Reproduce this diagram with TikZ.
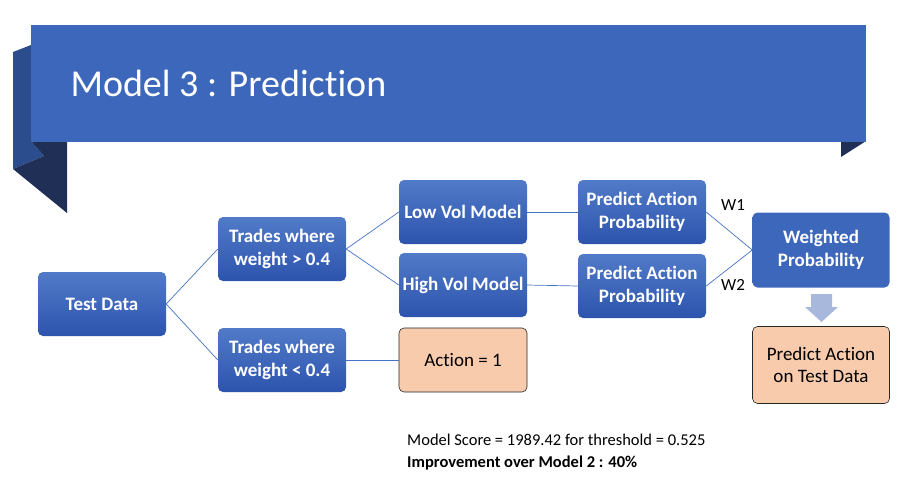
\documentclass[tikz,border=0pt]{standalone}
\usepackage{fontspec}
\setmainfont{Carlito}[Ligatures=NoCommon]
\definecolor{banner}{HTML}{3D67BA}
\definecolor{foldmid}{HTML}{2C4D8D}
\definecolor{folddark}{HTML}{1F2F56}
\definecolor{boxtop}{HTML}{517AC8}
\definecolor{boxbot}{HTML}{2D54AD}
\definecolor{peach}{HTML}{F8CBAD}
\definecolor{linkblue}{HTML}{4472C4}
\definecolor{arrowgrey}{HTML}{A8B7DC}
\begin{document}
\begin{tikzpicture}[x=1pt, y=-1pt,
        bluebox/.style={rounded corners=5pt, top color=boxtop, bottom color=boxbot, text=white, font=\fontsize{19}{22.5}\selectfont\bfseries, align=center, minimum width=128pt, minimum height=64pt, inner sep=0pt},
        peachbox/.style={rounded corners=5pt, fill=peach, draw=black!85, line width=0.6pt, font=\fontsize{19}{22.5}\selectfont, align=center, minimum width=128pt, minimum height=64pt, inner sep=0pt},
        link/.style={draw=linkblue, line width=0.7pt}]
    \useasboundingbox (0,0) rectangle (904,485);
    % title banner
    \fill[foldmid] (13,52) -- (31,45) -- (31,141) -- (44,156) -- (13,169) -- cycle;
    \fill[folddark] (31,141) -- (67,141) -- (67,213) -- (13,169) -- (44,156) -- cycle;
    \fill[folddark] (841,141) -- (866,141) -- (841,157) -- cycle;
    \fill[banner] (31,25) rectangle (866,142);
    \node[anchor=west, text=white, font=\fontsize{38}{44}\selectfont] (title) at (67,83) {Model 3 : Prediction};
    % boxes
    \node[bluebox] (test) at (102,304) {Test Data};
    \node[bluebox] (hi) at (282,249) {Trades where\\weight > 0.4};
    \node[bluebox] (lo) at (282,360) {Trades where\\weight < 0.4};
    \node[bluebox] (lowvol) at (463,212) {Low Vol Model};
    \node[bluebox] (highvol) at (463,285) {High Vol Model};
    \node[peachbox] (action) at (463,360) {Action = 1};
    \node[bluebox] (pap1) at (642,212) {Predict Action\\Probability};
    \node[bluebox] (pap2) at (642,286) {Predict Action\\Probability};
    \node[bluebox, top color=banner, bottom color=banner, minimum width=137pt, minimum height=75pt] (wp) at (821,250) {Weighted\\Probability};
    \node[peachbox, minimum width=137pt, minimum height=77pt] (final) at (821,365) {Predict Action\\on Test Data};
    % connectors
    \draw[link] (test.east) -- (hi.west);
    \draw[link] (test.east) -- (lo.west);
    \draw[link] (hi.east) -- (lowvol.west);
    \draw[link] (hi.east) -- (highvol.west);
    \draw[link] (lo.east) -- (action.west);
    \draw[link] (lowvol.east) -- (pap1.west);
    \draw[link] (highvol.east) -- (pap2.west);
    \draw[link] (pap1.east) -- (wp.west);
    \draw[link] (pap2.east) -- (wp.west);
    \node[font=\fontsize{17}{20}\selectfont] (w1) at (733,205) {W1};
    \node[font=\fontsize{17}{20}\selectfont] (w2) at (733,285) {W2};
    % down arrow
    \fill[arrowgrey] (811,294) -- (832,294) -- (832,307) -- (838,307) -- (821.5,322) -- (805,307) -- (811,307) -- cycle;
    % score
    \node[anchor=west, align=left, font=\fontsize{16.5}{22}\selectfont, inner sep=0pt] (score) at (407,452) {Model Score = 1989.42 for threshold = 0.525\\\textbf{Improvement over Model 2 : 40\%}};
\end{tikzpicture}
\end{document}
